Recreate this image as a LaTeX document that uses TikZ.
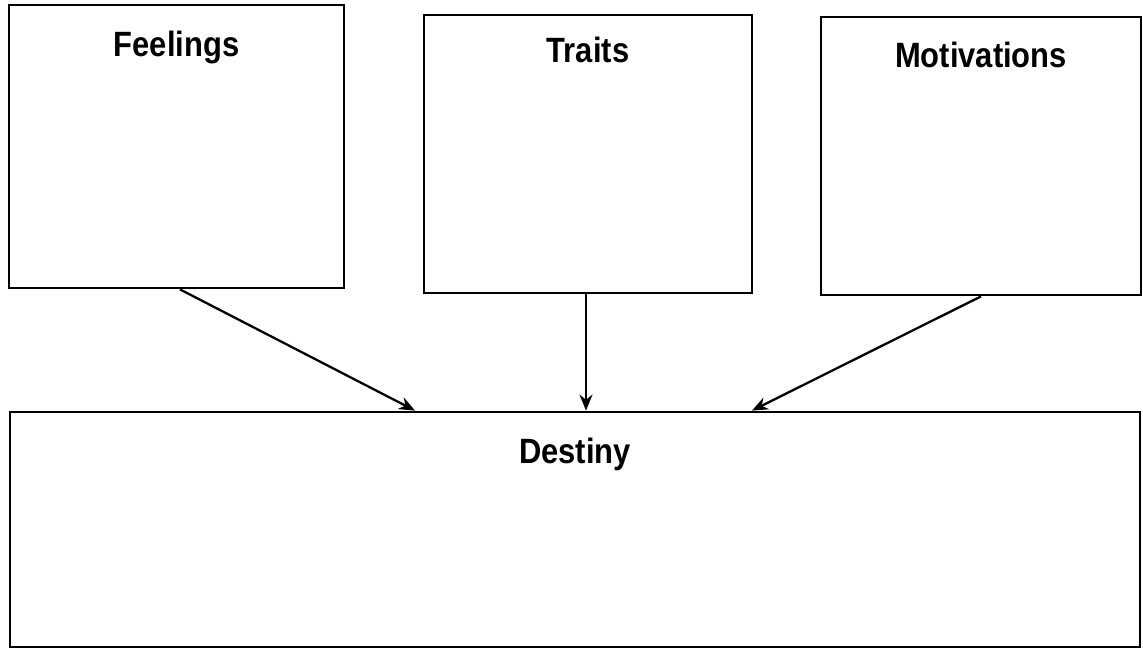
\documentclass[tikz,border=0pt]{standalone}
\usepackage{fontspec}
\setmainfont{Liberation Sans}[FakeStretch=0.88]
\usetikzlibrary{arrows.meta, calc, positioning}

\begin{document}
\begin{tikzpicture}[x=0.02cm,y=-0.02cm]
\tikzset{
  box/.style={draw, line width=1.6pt, rectangle, inner sep=0pt},
  title/.style={font=\fontsize{20}{24}\selectfont\bfseries},
  link/.style={-{Stealth[length=3.2mm,width=2.6mm]}, line width=1.3pt}
}
\useasboundingbox (0,0) rectangle (1143,655);

% Draw the three upper boxes
\node[box, minimum width=335*0.02cm, minimum height=283*0.02cm,
      label={[title,anchor=center,yshift=-0.88cm]north:Feelings}] (feel) at (176.5,146.5) {};
\node[box, minimum width=328*0.02cm, minimum height=278*0.02cm,
      label={[title,anchor=center,yshift=-0.72cm]north:Traits}] (trait) at (588,154) {};
\node[box, minimum width=320*0.02cm, minimum height=278*0.02cm,
      label={[title,anchor=center,yshift=-0.78cm]north:Motivations}] (motiv) at (981,156) {};

% Draw the lower box
\node[box, minimum width=1130*0.02cm, minimum height=235*0.02cm,
      label={[title,anchor=center,yshift=-0.88cm]north:Destiny}] (dest) at (575,529.5) {};

% Draw arrows
\draw[link] ([xshift=0.07cm]feel.south) -- ([xshift=-3.2cm]dest.north);
\draw[link] ([xshift=-0.04cm]trait.south) -- ([xshift=-0.04cm]trait.south |- dest.north);
\draw[link] (motiv.south) -- ([xshift=3.54cm]dest.north);
\end{tikzpicture}
\end{document}
